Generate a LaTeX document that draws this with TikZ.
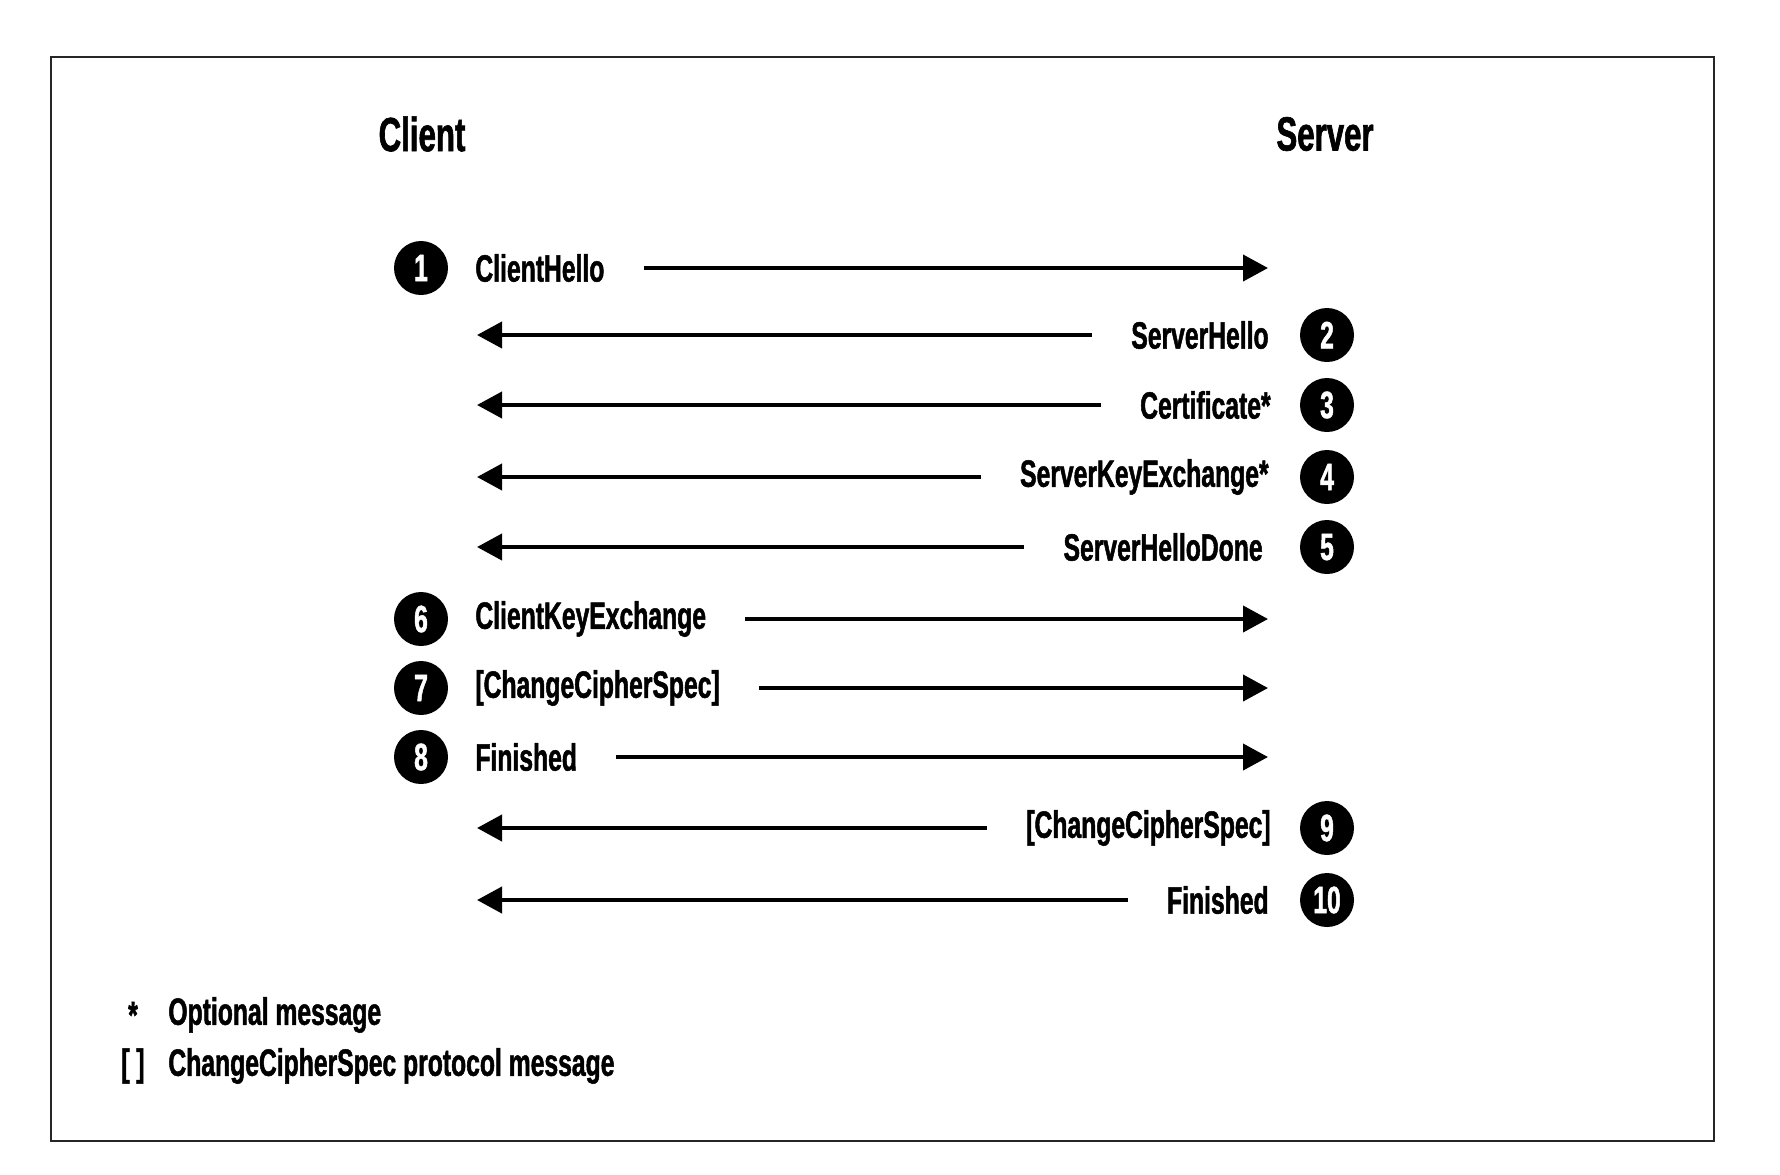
\documentclass[tikz,border=0pt]{standalone}
\usepackage{fontspec}
\setmainfont{Liberation Sans}[FakeStretch=0.65, BoldFeatures={FakeBold=1.3}]
\usetikzlibrary{arrows.meta}
\begin{document}
\begin{tikzpicture}[x=0.5pt,y=-0.5pt,
  lbl/.style={font=\bfseries\fontsize{19}{22}\selectfont, inner sep=0pt},
  head/.style={font=\bfseries\fontsize{24}{28}\selectfont, inner sep=0pt},
  num/.style={circle, fill=black, minimum size=27pt, inner sep=0pt, text=white, font=\bfseries\fontsize{19}{22}\selectfont},
  arr/.style={line width=2pt, -{Triangle[length=12.5pt,width=13pt]}},
  gap/.style={xshift=19.5pt}]
\useasboundingbox (0,0) rectangle (1780,1174);
\draw[line width=1.2pt, draw=black!85] (51,57) rectangle (1714,1141);
\node[head] (client) at (422,134) {Client};
\node[head] (server) at (1325,134) {Server};
% rows
\foreach \i/\y in {1/268,2/335,3/405,4/477,5/547,6/619,7/688,8/757,9/828,10/900}{
  \coordinate (R\i) at (1268,\y);
  \coordinate (L\i) at (477,\y);
}
% client side messages
\node[num] (n1) at (421,268) {1};
\node[lbl, anchor=west] (m1) at (475,268) {ClientHello};
\draw[arr] ([gap]m1.east) -- (R1);
\node[num] (n6) at (421,619) {6};
\node[lbl, anchor=west] (m6) at (475,619) {ClientKeyExchange};
\draw[arr] ([gap]m6.east) -- (R6);
\node[num] (n7) at (421,688) {7};
\node[lbl, anchor=west] (m7) at (475,688) {[ChangeCipherSpec]};
\draw[arr] ([gap]m7.east) -- (R7);
\node[num] (n8) at (421,757) {8};
\node[lbl, anchor=west] (m8) at (475,757) {Finished};
\draw[arr] ([gap]m8.east) -- (R8);
% server side messages
\node[num] (n2) at (1327,335) {2};
\node[lbl, anchor=east] (m2) at (1269,335) {ServerHello};
\draw[arr] ([xshift=-19.5pt]m2.west) -- (L2);
\node[num] (n3) at (1327,405) {3};
\node[lbl, anchor=east] (m3) at (1271,405) {Certificate*};
\draw[arr] ([xshift=-19.5pt]m3.west) -- (L3);
\node[num] (n4) at (1327,477) {4};
\node[lbl, anchor=east] (m4) at (1269,477) {ServerKeyExchange*};
\draw[arr] ([xshift=-19.5pt]m4.west) -- (L4);
\node[num] (n5) at (1327,547) {5};
\node[lbl, anchor=east] (m5) at (1263,547) {ServerHelloDone};
\draw[arr] ([xshift=-19.5pt]m5.west) -- (L5);
\node[num] (n9) at (1327,828) {9};
\node[lbl, anchor=east] (m9) at (1271,828) {[ChangeCipherSpec]};
\draw[arr] ([xshift=-19.5pt]m9.west) -- (L9);
\node[num] (n10) at (1327,900) {10};
\node[lbl, anchor=east] (m10) at (1269,900) {Finished};
\draw[arr] ([xshift=-19.5pt]m10.west) -- (L10);
% legend
\node[lbl] (s1) at (133,1015) {*};
\node[lbl, anchor=west] (t1) at (168,1015) {Optional message};
\node[lbl] (s2) at (133,1066) {[ ]};
\node[lbl, anchor=west] (t2) at (168,1066) {ChangeCipherSpec protocol message};
\end{tikzpicture}
\end{document}
